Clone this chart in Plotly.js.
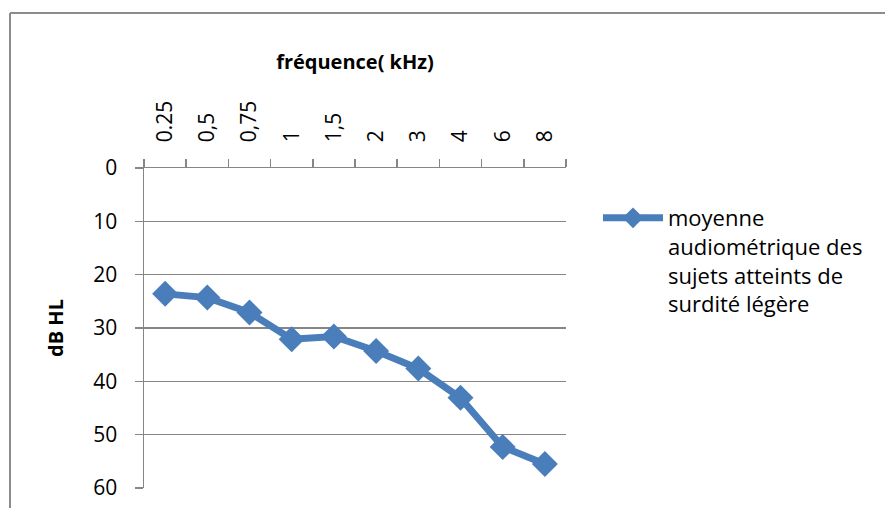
<!DOCTYPE html>
<html>
<head>
<meta charset="utf-8">
<script src="https://cdn.plot.ly/plotly-3.0.1.min.js"></script>
<style>html,body{margin:0;padding:0;background:#fff;}#chart{width:885px;height:508px;}</style>
</head>
<body>
<div id="chart"></div>
<script>
const frequencies = ["0.25", "0,5", "0,75", "1", "1,5", "2", "3", "4", "6", "8"];
const dbHL = [23.6, 24.3, 27.1, 32.1, 31.6, 34.3, 37.6, 43.1, 52.3, 55.5];
const seriesName = "moyenne<br>audiométrique des<br>sujets atteints de<br>surdité légère";
const yTicks = [0, 10, 20, 30, 40, 50, 60];

const FONT = "'Open Sans', Lato, sans-serif";
const W = 885, H = 508;
const L = 144, R = 566, T = 168, B = 488;
const px = x => (x - L) / (R - L);
const py = y => (B - y) / (B - T);

const trace = {
  x: frequencies,
  y: dbHL,
  type: "scatter",
  mode: "lines+markers",
  name: seriesName,
  line: {color: "#4A7EBB", width: 7},
  marker: {symbol: "diamond", size: 20, color: "#4A7EBB"}
};

const layout = {
  width: W, height: H,
  margin: {l: L, r: W - R, t: T, b: H - B, pad: 0},
  paper_bgcolor: "#fff", plot_bgcolor: "#fff",
  font: {family: FONT, color: "#000"},
  showlegend: true,
  legend: {
    x: px(598), xanchor: "left", y: py(197), yanchor: "top",
    font: {family: FONT, size: 22, color: "#000"},
    valign: "top", bgcolor: "rgba(0,0,0,0)", itemwidth: 60
  },
  xaxis: {
    type: "category", side: "top", range: [-0.5, 9.5], autorange: false,
    tickangle: -90, tickson: "boundaries",
    ticks: "outside", ticklen: 8, tickcolor: "#868686", tickwidth: 1.5,
    ticklabelstandoff: 20,
    showline: true, linecolor: "#868686", linewidth: 1.5,
    showgrid: false, zeroline: false,
    tickfont: {family: FONT, size: 21},
    title: {text: "<b>fréquence( kHz)</b>", font: {family: FONT, size: 20}, standoff: 26}
  },
  yaxis: {
    range: [60, 0], autorange: false, tickvals: yTicks,
    ticks: "outside", ticklen: 8, tickcolor: "#868686", tickwidth: 1.5,
    ticklabelstandoff: 13,
    showline: true, linecolor: "#868686", linewidth: 1.5,
    showgrid: true, gridcolor: "#868686", gridwidth: 1.5, zeroline: false,
    tickfont: {family: FONT, size: 21},
    title: {text: "<b>dB HL</b>", font: {family: FONT, size: 20}, standoff: 24}
  },
  shapes: [
    {type: "line", xref: "paper", yref: "paper", x0: px(10), x1: px(885), y0: py(13), y1: py(13), line: {color: "#8c8c8c", width: 2}},
    {type: "line", xref: "paper", yref: "paper", x0: px(10), x1: px(10), y0: py(13), y1: py(508), line: {color: "#8c8c8c", width: 2}}
  ]
};

Plotly.newPlot("chart", [trace], layout, {displayModeBar: false, staticPlot: true});
</script>
</body>
</html>
